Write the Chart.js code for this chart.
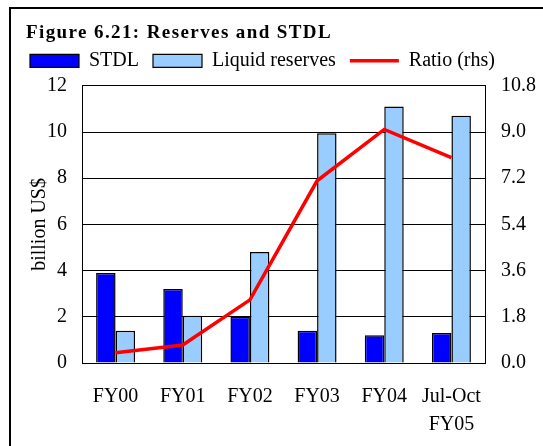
<!DOCTYPE html>
<html>
<head>
<meta charset="utf-8">
<script src="https://cdn.jsdelivr.net/npm/chart.js@4/dist/chart.umd.min.js"></script>
<style>
html,body{margin:0;padding:0;background:#fff;}
#frame{position:absolute;left:9px;top:7px;width:600px;height:500px;border-left:2px solid #000;border-top:2px solid #000;}
#wrap{position:absolute;left:0;top:0;width:543px;height:446px;}
</style>
</head>
<body>
<div id="frame"></div>
<div id="wrap"><canvas id="grafico" width="543" height="446"></canvas></div>
<script>
const categorias=["FY00","FY01","FY02","FY03","FY04",["Jul-Oct","FY05"]];
const stdl=[3.9,3.2,2.0,1.4,1.2,1.3];
const reservas=[1.4,2.05,4.8,9.95,11.1,10.7];
const ratio=[0.40,0.70,2.46,7.1,9.1,8.0];
const ticksEsq=[0,2,4,6,8,10,12];
const ticksDir=[0,1.8,3.6,5.4,7.2,9.0,10.8];

const fonte="'Liberation Serif','Times New Roman',serif";

// ajustes de posicao do titulo e da legenda
const ajustes={id:"ajustes",beforeInit(chart){
let leg=chart.legend;
let fit=leg.fit;
leg.fit=function(){fit.call(this);this.height=41;};
let drawLeg=leg.draw;
leg.draw=function(){let c=this.ctx;c.save();c.translate(-10,-8);drawLeg.call(this);c.restore();};
let tit=chart.titleBlock;
let drawTit=tit.draw;
tit.draw=function(){let c=this.ctx;c.save();c.letterSpacing="1.4px";drawTit.call(this);c.restore();};
}};

let ctx=document.getElementById("grafico");
new Chart(ctx,{
data:{
labels:categorias,
datasets:[
{type:"bar",label:"STDL",data:stdl,backgroundColor:"#0000ff",borderColor:"#000",borderWidth:1.5,yAxisID:"y",order:1},
{type:"bar",label:"Liquid reserves",data:reservas,backgroundColor:"#99ccff",borderColor:"#000",borderWidth:1.5,yAxisID:"y",order:1},
{type:"line",label:"Ratio (rhs)",data:ratio,borderColor:"#ff0000",backgroundColor:"#ff0000",borderWidth:3.5,pointRadius:0,tension:0,yAxisID:"y2",order:0}
]},
plugins:[ajustes],
options:{
responsive:false,
animation:false,
layout:{padding:{left:26,right:5,top:22,bottom:13}},
datasets:{bar:{categoryPercentage:0.58,barPercentage:1}},
plugins:{
tooltip:{enabled:false},
title:{display:true,text:"Figure 6.21: Reserves and STDL",align:"start",color:"#000",
font:{family:fonte,size:19,weight:"bold",lineHeight:1.2},padding:{top:0,bottom:0}},
legend:{display:true,align:"start",
labels:{color:"#000",font:{family:fonte,size:20},usePointStyle:true,pointStyleWidth:49,boxHeight:13,padding:14,
generateLabels:function(chart){
return chart.data.datasets.map(function(ds,i){
let linha=ds.type==="line";
return {text:ds.label,datasetIndex:i,hidden:false,fontColor:"#000",
fillStyle:ds.backgroundColor,strokeStyle:linha?ds.borderColor:"#000",
lineWidth:linha?3.5:1.2,pointStyle:linha?"line":"rect"};
});
}}}
},
scales:{
x:{grid:{display:false},border:{display:true,color:"#000",width:1},
afterFit:function(ax){ax.height=70;},
ticks:{color:"#000",font:{family:fonte,size:20,lineHeight:1.4},padding:12,maxRotation:0,autoSkip:false}},
y:{position:"left",min:0,max:12,
afterBuildTicks:function(ax){ax.ticks=ticksEsq.map(v=>({value:v}));},
afterFit:function(ax){ax.width=56;},
grid:{color:"#000",lineWidth:1,drawTicks:false},border:{display:true,color:"#000",width:1},
ticks:{color:"#000",font:{family:fonte,size:20},padding:15},
title:{display:true,text:"billion US$",color:"#000",font:{family:fonte,size:20,lineHeight:1},padding:{top:4,bottom:0}}},
y2:{position:"right",min:0,max:10.8,
afterBuildTicks:function(ax){ax.ticks=ticksDir.map(v=>({value:v}));},
afterFit:function(ax){ax.width=53;},
grid:{display:false,drawTicks:false},border:{display:true,color:"#000",width:1},
ticks:{color:"#000",font:{family:fonte,size:20},padding:16,callback:v=>Number(v).toFixed(1)}}
}
}
});
</script>
</body>
</html>
